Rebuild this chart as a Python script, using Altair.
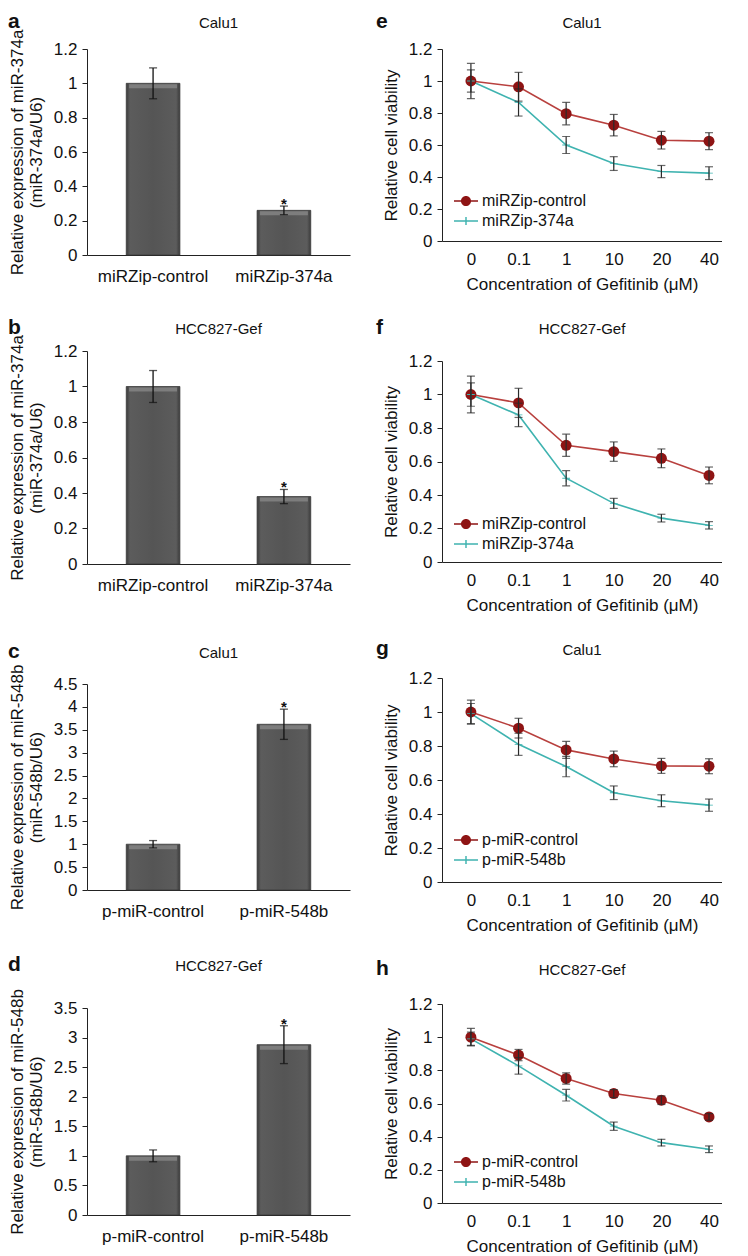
import altair as alt
import pandas as pd

FONT = "Liberation Sans"
TEXT = "#111111"
AXIS = "#222222"
RED_LINE = "#b8403e"
RED_DARK = "#8e1414"
TEAL = "#3fb3b0"

# ---------- panels a-d: relative expression (bar charts) ----------
a_groups = ["miRZip-control", "miRZip-374a"]
a_values = [1.00, 0.26]
a_errors = [0.09, 0.025]
a_marks = ["", "*"]
a_ticks = [0, 0.2, 0.4, 0.6, 0.8, 1.0, 1.2]

b_groups = ["miRZip-control", "miRZip-374a"]
b_values = [1.00, 0.38]
b_errors = [0.09, 0.04]
b_marks = ["", "*"]
b_ticks = [0, 0.2, 0.4, 0.6, 0.8, 1.0, 1.2]

c_groups = ["p-miR-control", "p-miR-548b"]
c_values = [1.00, 3.62]
c_errors = [0.08, 0.33]
c_marks = ["", "*"]
c_ticks = [0, 0.5, 1, 1.5, 2, 2.5, 3, 3.5, 4, 4.5]

d_groups = ["p-miR-control", "p-miR-548b"]
d_values = [1.00, 2.88]
d_errors = [0.10, 0.32]
d_marks = ["", "*"]
d_ticks = [0, 0.5, 1, 1.5, 2, 2.5, 3, 3.5]

# ---------- panels e-h: relative cell viability (line charts) ----------
concentrations = ["0", "0.1", "1", "10", "20", "40"]
viability_ticks = [0, 0.2, 0.4, 0.6, 0.8, 1.0, 1.2]

e_series = ["miRZip-control", "miRZip-374a"]
e_control = [1.00, 0.964, 0.796, 0.724, 0.630, 0.624]
e_control_err = [0.11, 0.09, 0.07, 0.067, 0.055, 0.053]
e_treated = [1.00, 0.866, 0.600, 0.484, 0.434, 0.424]
e_treated_err = [0.07, 0.085, 0.053, 0.043, 0.038, 0.040]

f_series = ["miRZip-control", "miRZip-374a"]
f_control = [1.00, 0.950, 0.697, 0.659, 0.619, 0.517]
f_control_err = [0.11, 0.087, 0.066, 0.058, 0.056, 0.050]
f_treated = [1.00, 0.878, 0.500, 0.350, 0.262, 0.219]
f_treated_err = [0.07, 0.07, 0.045, 0.030, 0.023, 0.022]

g_series = ["p-miR-control", "p-miR-548b"]
g_control = [1.00, 0.905, 0.777, 0.724, 0.683, 0.681]
g_control_err = [0.07, 0.058, 0.050, 0.046, 0.044, 0.044]
g_treated = [0.99, 0.810, 0.679, 0.525, 0.478, 0.452]
g_treated_err = [0.06, 0.065, 0.060, 0.040, 0.035, 0.036]

h_series = ["p-miR-control", "p-miR-548b"]
h_control = [1.00, 0.892, 0.751, 0.660, 0.620, 0.519]
h_control_err = [0.053, 0.034, 0.034, 0.024, 0.026, 0.020]
h_treated = [0.99, 0.827, 0.650, 0.463, 0.364, 0.324]
h_treated_err = [0.04, 0.05, 0.035, 0.025, 0.020, 0.020]

# symbol paths (unit box -1..1)
PLUS_PATH = "M-1,-0.1H1V0.1H-1Z M-0.1,-1H0.1V1H-0.1Z"
LEG_CTRL = ("M-1,-0.06H1V0.06H-1Z "
            "M0.42,0A0.42,0.42,0,1,1,-0.42,0A0.42,0.42,0,1,1,0.42,0Z")
LEG_TRT = "M-1,-0.06H1V0.06H-1Z M-0.06,-0.33H0.06V0.33H-0.06Z"

BAR_FILL = alt.LinearGradient(
    gradient="linear", x1=0, x2=1, y1=0, y2=0,
    stops=[
        alt.GradientStop(offset=0, color="#3b3b3b"),
        alt.GradientStop(offset=0.07, color="#5c5c5c"),
        alt.GradientStop(offset=0.5, color="#555555"),
        alt.GradientStop(offset=0.93, color="#5c5c5c"),
        alt.GradientStop(offset=1, color="#3b3b3b"),
    ],
)


def label_layers(letter, cell, width, letter_x, base_y):
    df = pd.DataFrame({"letter": [letter], "cell": [cell]})
    base = alt.Chart(df)
    let = base.mark_text(font=FONT, fontSize=21, fontWeight="bold", align="left",
                         baseline="alphabetic", color=TEXT).encode(
        x=alt.value(letter_x), y=alt.value(base_y), text="letter:N")
    tit = base.mark_text(font=FONT, fontSize=15, align="center",
                         baseline="alphabetic", color=TEXT).encode(
        x=alt.value(width / 2), y=alt.value(base_y), text="cell:N")
    return let, tit


def bar_panel(letter, cell, groups, values, errors, marks, ticks, ytitle, height, base_y):
    W = 263
    df = pd.DataFrame({"group": groups, "value": values, "err": errors, "mark": marks})
    df["lo"] = df["value"] - df["err"]
    df["hi"] = df["value"] + df["err"]
    yaxis = alt.Axis(values=ticks, format="~g", title=ytitle, titleFont=FONT,
                     titleFontSize=17, titleFontWeight="normal", titleLineHeight=19,
                     titlePadding=8, titleColor=TEXT, labelFont=FONT, labelFontSize=17,
                     labelPadding=5, labelColor=TEXT, tickSize=5, tickColor=AXIS,
                     domainColor=AXIS, grid=False)
    yscale = alt.Scale(domain=[0, ticks[-1]], nice=False)
    xaxis = alt.Axis(title=None, labelAngle=0, ticks=False, labelFont=FONT,
                     labelFontSize=17, labelPadding=13, labelColor=TEXT, domainColor=AXIS)
    x = alt.X("group:N", sort=groups,
              scale=alt.Scale(paddingInner=0.59, paddingOuter=0.3), axis=xaxis)

    def Y(f):
        return alt.Y(f, scale=yscale, axis=yaxis)

    base = alt.Chart(df)
    bars = base.mark_bar(color=BAR_FILL, stroke="#3a3a3a", strokeWidth=0.8).encode(
        x=x, y=Y("value:Q"))
    hl = base.mark_tick(color="#8d8d8d", thickness=4, size=48, yOffset=3).encode(
        x=x, y=Y("value:Q"))
    rule = base.mark_rule(color="#111111", strokeWidth=1.3).encode(
        x=x, y=Y("lo:Q"), y2="hi:Q")
    cap_lo = base.mark_tick(color="#111111", thickness=1.3, size=8).encode(x=x, y=Y("lo:Q"))
    cap_hi = base.mark_tick(color="#111111", thickness=1.3, size=8).encode(x=x, y=Y("hi:Q"))
    star = base.mark_text(font=FONT, fontSize=15, fontWeight="bold", baseline="alphabetic",
                          dy=3, color=TEXT).encode(x=x, y=Y("hi:Q"), text="mark:N")
    let, tit = label_layers(letter, cell, W, -79, base_y)
    return alt.layer(bars, hl, rule, cap_lo, cap_hi, star, let, tit).properties(
        width=W, height=height)


def line_panel(letter, cell, series, control, control_err, treated, treated_err,
               height, base_y, legend_y):
    W = 280
    rows = []
    for s, vals, errs in [(series[0], control, control_err), (series[1], treated, treated_err)]:
        for c, v, e in zip(concentrations, vals, errs):
            rows.append({"series": s, "conc": c, "value": v, "lo": v - e, "hi": v + e})
    df = pd.DataFrame(rows)
    yaxis = alt.Axis(values=viability_ticks, format="~g", title="Relative cell viability",
                     titleFont=FONT, titleFontSize=17, titleFontWeight="normal",
                     titlePadding=8, titleColor=TEXT, labelFont=FONT, labelFontSize=17,
                     labelPadding=5, labelColor=TEXT, tickSize=5, tickColor=AXIS,
                     domainColor=AXIS, grid=False)
    yscale = alt.Scale(domain=[0, 1.2], nice=False)
    xaxis = alt.Axis(title="Concentration of Gefitinib (μM)", titleFont=FONT,
                     titleFontSize=17, titleFontWeight="normal", titleColor=TEXT,
                     titlePadding=9, labelAngle=0, ticks=False, labelFont=FONT,
                     labelFontSize=17, labelPadding=10, labelColor=TEXT, domainColor=AXIS)
    x = alt.X("conc:N", sort=concentrations,
              scale=alt.Scale(type="point", padding=0.44, align=0.69), axis=xaxis)

    def Y(f):
        return alt.Y(f, scale=yscale, axis=yaxis)

    base = alt.Chart(df)
    ctrl = base.transform_filter(alt.datum.series == series[0])
    trt = base.transform_filter(alt.datum.series == series[1])
    line_c = ctrl.mark_line(color=RED_LINE, strokeWidth=1.6).encode(x=x, y=Y("value:Q"))
    line_t = trt.mark_line(color=TEAL, strokeWidth=1.6).encode(x=x, y=Y("value:Q"))
    pts_c = ctrl.mark_point(filled=True, shape="circle", size=120, color=RED_DARK,
                            opacity=1).encode(x=x, y=Y("value:Q"))
    pts_t = trt.mark_point(filled=True, shape=PLUS_PATH, size=60, color=TEAL,
                           opacity=1).encode(x=x, y=Y("value:Q"))
    rule = base.mark_rule(color="#2a2a2a", strokeWidth=1.2).encode(
        x=x, y=Y("lo:Q"), y2="hi:Q")
    cap_lo = base.mark_tick(color="#2a2a2a", thickness=1.2, size=8).encode(x=x, y=Y("lo:Q"))
    cap_hi = base.mark_tick(color="#2a2a2a", thickness=1.2, size=8).encode(x=x, y=Y("hi:Q"))

    legend = alt.Legend(title=None, orient="none", legendX=12, legendY=legend_y,
                        labelFont=FONT, labelFontSize=16, labelColor=TEXT, labelOffset=4,
                        symbolSize=576, symbolStrokeWidth=0, rowPadding=0, padding=0,
                        symbolOpacity=1)
    leg = alt.Chart(pd.DataFrame({"series": series})).transform_filter("false").mark_point(
        filled=True, size=576, opacity=1).encode(
        color=alt.Color("series:N", sort=series,
                        scale=alt.Scale(domain=series, range=[RED_DARK, TEAL]), legend=legend),
        shape=alt.Shape("series:N", sort=series,
                        scale=alt.Scale(domain=series, range=[LEG_CTRL, LEG_TRT]), legend=legend),
    )
    let, tit = label_layers(letter, cell, W, -66, base_y)
    return alt.layer(line_c, line_t, pts_c, pts_t, rule, cap_lo, cap_hi, leg, let, tit).properties(
        width=W, height=height)


a = bar_panel("a", "Calu1", a_groups, a_values, a_errors, a_marks, a_ticks,
              ["Relative expression of miR-374a", "(miR-374a/U6)"], 206, -21)
b = bar_panel("b", "HCC827-Gef", b_groups, b_values, b_errors, b_marks, b_ticks,
              ["Relative expression of miR-374a", "(miR-374a/U6)"], 213, -17)
c = bar_panel("c", "Calu1", c_groups, c_values, c_errors, c_marks, c_ticks,
              ["Relative expression of miR-548b", "(miR-548b/U6)"], 206, -26)
d = bar_panel("d", "HCC827-Gef", d_groups, d_values, d_errors, d_marks, d_ticks,
              ["Relative expression of miR-548b", "(miR-548b/U6)"], 207, -37)

e = line_panel("e", "Calu1", e_series, e_control, e_control_err, e_treated, e_treated_err,
               192, -21, 140)
f = line_panel("f", "HCC827-Gef", f_series, f_control, f_control_err, f_treated, f_treated_err,
               201, -27, 151)
g = line_panel("g", "Calu1", g_series, g_control, g_control_err, g_treated, g_treated_err,
               204, -23, 150)
h = line_panel("h", "HCC827-Gef", h_series, h_control, h_control_err, h_treated, h_treated_err,
               199, -29, 146)

left = alt.vconcat(
    alt.vconcat(a, b, spacing=33, bounds="full"),
    alt.vconcat(c, d, spacing=35, bounds="full"),
    spacing=48, bounds="full",
)
right = alt.vconcat(e, f, g, h, spacing=25, bounds="full").resolve_scale(
    color="independent", shape="independent").resolve_legend(
    color="independent", shape="independent")

chart = alt.hconcat(left, right, spacing=26, bounds="full").resolve_scale(
    color="independent", shape="independent").properties(
    padding={"top": 3, "left": 0, "right": 0, "bottom": 0}
).configure_view(stroke=None)

chart.save("out.html", embed_options={"renderer": "svg", "actions": False})
